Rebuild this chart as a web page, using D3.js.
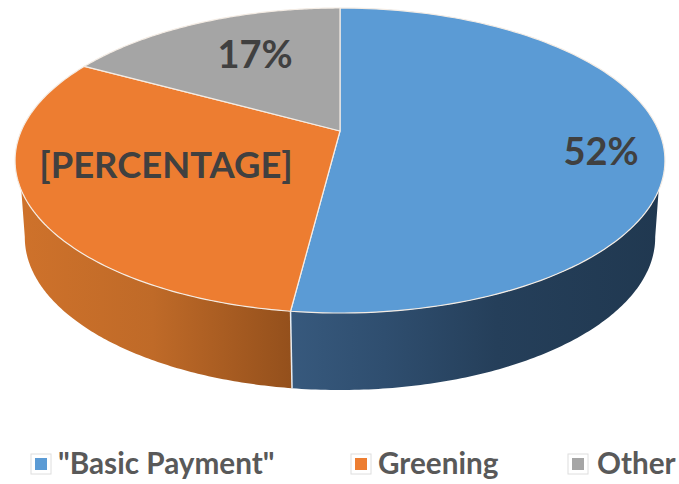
<!DOCTYPE html>
<html>
<head>
<meta charset="utf-8">
<script src="https://cdn.jsdelivr.net/npm/d3@7"></script>
<style>
  html, body { margin: 0; padding: 0; background: #fff; }
  text { font-family: Lato, "Open Sans", sans-serif; }
</style>
</head>
<body>
<div id="chart-container"></div>
<script>
const categories = ['"Basic Payment"', "Greening", "Other"];
const shares = [52, 31, 17];
const sliceLabels = ["52%", "[PERCENTAGE]", "17%"];
const topColors = ["#5b9bd5", "#ed7d31", "#a5a5a5"];

const width = 679, height = 484;
const depth = 77;
const baseShrink = 0.97; // bottom plate looks a bit narrower than the top

const svg = d3.select("#chart-container").append("svg")
    .attr("width", width)
    .attr("height", height)
    .style("display", "block");

// Perspective of the pie plate: unit circle to screen
const tilt = 0.1935;
const x = d3.scaleLinear().domain([0, 1]).range([340, 340 + 318.8]);
const y = d3.scaleLinear().domain([0, 1]).range([131, 131 + 146.8]);

function project(angle, r) {
    const u = Math.sin(angle) * r;
    const v = -Math.cos(angle) * r;
    const w = 1 - tilt * v;
    return [x(u / w), y(v / w)];
}

function projectBase(angle) {
    const p = project(angle, 1);
    return [x(0) + (p[0] - x(0)) * baseShrink, p[1] + depth];
}

const pie = d3.pie().value(d => d).sort(null);
const slices = pie(shares);
const line = d3.line();

function arcPoints(a0, a1, fn) {
    return d3.range(0, 121).map(i => fn(a0 + (a1 - a0) * i / 120));
}
const topEdge = a => project(a, 1);

// Side wall gradients
const defs = svg.append("defs");
function sideGradient(id, x1, x2, stops) {
    const g = defs.append("linearGradient")
        .attr("id", id)
        .attr("gradientUnits", "userSpaceOnUse")
        .attr("x1", x1).attr("x2", x2)
        .attr("y1", 0).attr("y2", 0);
    stops.forEach(s => g.append("stop").attr("offset", s[0]).attr("stop-color", s[1]));
}
sideGradient("side-blue", 291, 665, [[0, "#37597d"], [0.25, "#2f4e6f"], [0.55, "#253f5a"], [1, "#203850"]]);
sideGradient("side-orange", 15, 291, [[0, "#cf722b"], [0.5, "#bf6a28"], [1, "#94501c"]]);

// Front wall runs between these angles on the top rim and on the base rim
const rad = d3.scaleLinear().domain([0, 360]).range([0, 2 * Math.PI]);
const topFront = [rad(112), rad(248)];
const baseFront = [rad(101), rad(259)];
const sideIds = ["side-blue", "side-orange"];
slices.slice(0, 2).forEach((s, i) => {
    const pts = arcPoints(Math.max(s.startAngle, topFront[0]), Math.min(s.endAngle, topFront[1]), topEdge)
        .concat(arcPoints(Math.min(s.endAngle, baseFront[1]), Math.max(s.startAngle, baseFront[0]), projectBase));
    svg.append("path")
        .attr("d", line(pts) + "Z")
        .attr("fill", `url(#${sideIds[i]})`)
        .attr("stroke", "none");
});

// Seam between the two wall colours
svg.append("path")
    .attr("d", line([topEdge(slices[0].endAngle), projectBase(slices[0].endAngle)]))
    .attr("stroke", "#e8edf2")
    .attr("stroke-width", 1.5)
    .attr("fill", "none");

// Top of the pie
svg.selectAll("path.slice")
    .data(slices)
    .join("path")
    .attr("class", "slice")
    .attr("d", d => line([project(0, 0)].concat(arcPoints(d.startAngle, d.endAngle, topEdge))) + "Z")
    .attr("fill", (d, i) => topColors[i])
    .attr("stroke", "#f4ece4")
    .attr("stroke-width", 1.2)
    .attr("stroke-linejoin", "round");

// Slice labels
const labelAnchors = [[601, 165], [166, 178], [255, 68]];
svg.selectAll("text.slice-label")
    .data(sliceLabels)
    .join("text")
    .attr("class", "slice-label")
    .attr("x", (d, i) => labelAnchors[i][0])
    .attr("y", (d, i) => labelAnchors[i][1])
    .attr("text-anchor", "middle")
    .attr("font-size", (d, i) => i === 1 ? 36.4 : 38)
    .attr("font-weight", 700)
    .attr("fill", "#404040")
    .text(d => d);

// Legend
const legendX = [41, 361, 578];
const legend = svg.selectAll("g.legend")
    .data(categories)
    .join("g")
    .attr("class", "legend")
    .attr("transform", (d, i) => `translate(${legendX[i]},464)`);
legend.append("rect")
    .attr("x", -10).attr("y", -10)
    .attr("width", 20).attr("height", 20)
    .attr("fill", "#fff")
    .attr("stroke", "#dedede");
legend.append("rect")
    .attr("x", -6).attr("y", -6)
    .attr("width", 12).attr("height", 12)
    .attr("fill", (d, i) => topColors[i]);
legend.append("text")
    .attr("x", (d, i) => i === 2 ? 19 : 17)
    .attr("y", 10)
    .attr("font-size", 29.7)
    .attr("font-weight", 700)
    .attr("fill", "#595959")
    .text(d => d);
</script>
</body>
</html>
